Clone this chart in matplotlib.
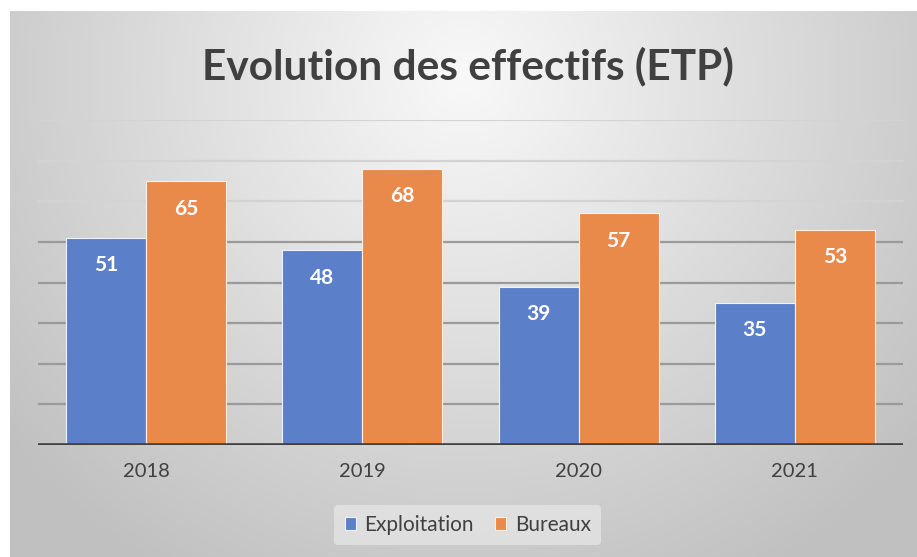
import numpy as np
import matplotlib
matplotlib.use("Agg")
import matplotlib.pyplot as plt

years = ["2018", "2019", "2020", "2021"]
exploitation = [51, 48, 39, 35]
bureaux = [65, 68, 57, 53]
series_names = ["Exploitation", "Bureaux"]

BLUE = "#5b80c9"
ORANGE = "#e9894a"

plt.rcParams["font.family"] = ["Lato", "DejaVu Sans"]

fig = plt.figure(figsize=(9.17, 5.57), dpi=100)
fig.patch.set_facecolor("white")

# fond du graphique : dégradé radial gris clair
bg = fig.add_axes([10 / 917, 0, 907 / 917, 546 / 557])
h, w = 546, 907
yy, xx = np.mgrid[0:h, 0:w]
d = np.sqrt(((xx - w * 0.5) / (w * 0.62)) ** 2 + ((yy - h * 0.12) / (h * 1.0)) ** 2)
shade = np.clip(0.975 - 0.21 * d, 0.755, 0.975)
bg.imshow(np.dstack([shade] * 3), aspect="auto", extent=[0, 1, 0, 1], origin="upper")
bg.set_axis_off()

ax = fig.add_axes([38 / 917, 1 - 445 / 557, 865 / 917, 325 / 557])
ax.patch.set_alpha(0)

x = np.arange(len(years))
width = 0.37
b1 = ax.bar(x - width / 2, exploitation, width, color=BLUE, edgecolor="#eef3ff",
            linewidth=0.8, label=series_names[0], zorder=3)
b2 = ax.bar(x + width / 2, bureaux, width, color=ORANGE, edgecolor="#fff1e6",
            linewidth=0.8, label=series_names[1], zorder=3)

# étiquettes de valeurs dans les barres
for bars, vals in [(b1, exploitation), (b2, bureaux)]:
    for bar, v in zip(bars, vals):
        ax.text(bar.get_x() + bar.get_width() / 2, v - 6.8, str(v), ha="center",
                va="center", color="white", fontsize=15, fontweight="bold", zorder=4)

# quadrillage : plus clair en haut
for g in range(10, 81, 10):
    c = "#d3d3d3" if g >= 60 else "#9a9a9a"
    ax.axhline(g, color=c, linewidth=1.6, zorder=1)
ax.axhline(0, color="#3f3f3f", linewidth=2.6, zorder=5)

ax.set_xlim(-0.5, 3.5)
ax.set_ylim(0, 80)
ax.set_yticks([])
ax.set_xticks(x)
ax.set_xticklabels(years, fontsize=14.5, color="#404040")
ax.tick_params(axis="x", length=0, pad=13)
for s in ax.spines.values():
    s.set_visible(False)

fig.text(0.51, 1 - 66 / 557, "Evolution des effectifs (ETP)", ha="center", va="center",
         fontsize=30.5, fontweight="bold", color="#404040")

leg = fig.legend(handles=[b1, b2], labels=series_names, loc="center",
                 bbox_to_anchor=(0.51, 1 - 525 / 557), ncol=2, frameon=True,
                 fontsize=15, handlelength=0.55, handleheight=0.55, handletextpad=0.4,
                 columnspacing=1.0, borderpad=0.5)
leg.get_frame().set_facecolor("#e4e4e4")
leg.get_frame().set_edgecolor("none")
leg.get_frame().set_alpha(0.8)
for t in leg.get_texts():
    t.set_color("#404040")

fig.savefig("out.png", dpi=100)
